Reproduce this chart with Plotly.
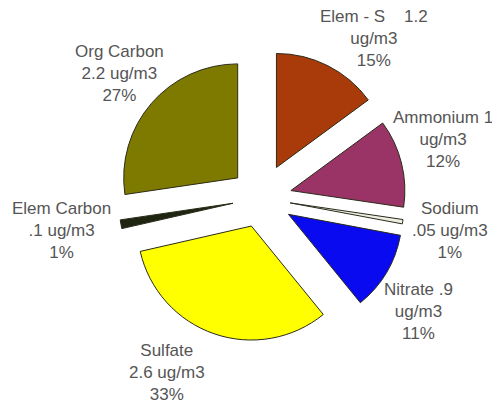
import plotly.graph_objects as go

# ---- data ----
categories = ["Elem - S", "Ammonium", "Sodium", "Nitrate", "Sulfate", "Elem Carbon", "Org Carbon"]
values_ugm3 = [1.2, 1.0, 0.05, 0.9, 2.6, 0.1, 2.2]
value_labels = ["1.2", "1", ".05", ".9", "2.6", ".1", "2.2"]
pct_labels = ["15%", "12%", "1%", "11%", "33%", "1%", "27%"]
unit = "ug/m3"

# ---- styles ----
colors = ["#A93B0B", "#9B3466", "#EDEDE2", "#0A0AF0", "#FFFF00", "#1E2612", "#7E7A00"]
pulls = [0.30, 0.27, 0.26, 0.28, 0.26, 0.25, 0.27]

NB = "\u00a0"
label_lines = [
    [f"{categories[0]}{NB*4}{value_labels[0]}", unit, pct_labels[0]],
    [f"{categories[1]} {value_labels[1]}", unit, pct_labels[1]],
    [categories[2], f"{value_labels[2]} {unit}", pct_labels[2]],
    [f"{categories[3]} {value_labels[3]}", unit, pct_labels[3]],
    [categories[4], f"{value_labels[4]} {unit}", pct_labels[4]],
    [categories[5], f"{value_labels[5]} {unit}", pct_labels[5]],
    [categories[6], f"{value_labels[6]} {unit}", pct_labels[6]],
]
# label centre positions in pixels (x from left, y from top)
label_pos = [(366, 31), (435, 131), (442, 222), (410, 303), (159, 364), (53, 222), (111, 65)]

W, H = 500, 404
cx, cy, r = 253, 190, 114
half = r * (1 + max(pulls))

fig = go.Figure(go.Pie(
    labels=categories,
    values=values_ugm3,
    sort=False,
    direction="clockwise",
    rotation=0,
    pull=pulls,
    marker=dict(colors=colors, line=dict(color="#2a2a1a", width=1)),
    textinfo="none",
    hoverinfo="label+value",
    showlegend=False,
    domain=dict(x=[(cx - half) / W, (cx + half) / W],
                y=[1 - (cy + half) / H, 1 - (cy - half) / H]),
))

for lines, (px, py) in zip(label_lines, label_pos):
    fig.add_annotation(
        x=px / W, y=1 - py / H, xref="paper", yref="paper",
        text="<br>".join(lines), showarrow=False, align="center",
        xanchor="center", yanchor="middle",
        font=dict(family="Liberation Sans, Arial, sans-serif", size=17, color="#555555"),
    )

fig.update_layout(
    width=W, height=H,
    margin=dict(l=0, r=0, t=0, b=0),
    paper_bgcolor="white",
    plot_bgcolor="white",
)

fig.write_html("out.html")
